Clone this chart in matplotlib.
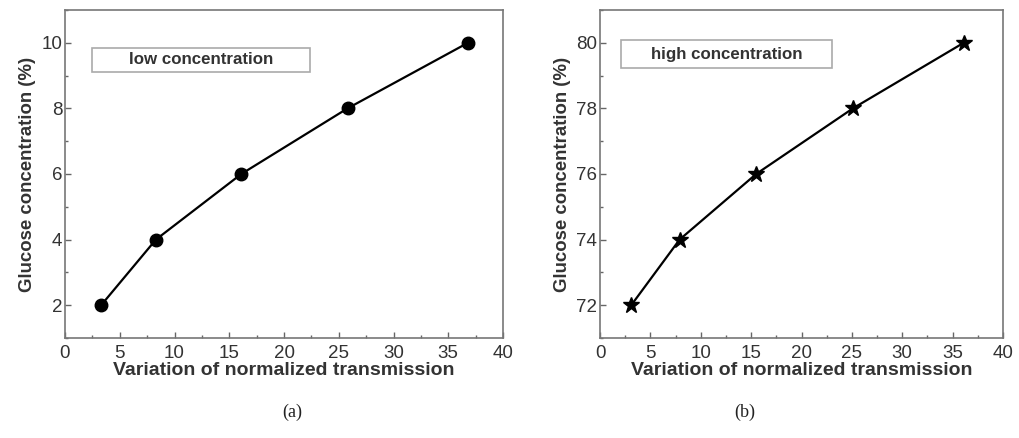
import matplotlib.pyplot as plt
from matplotlib.ticker import MultipleLocator

plt.rcParams['font.family'] = ['Liberation Sans', 'DejaVu Sans']

# panel (a): low concentration
low_x = [3.3, 8.3, 16.1, 25.8, 36.8]
low_y = [2, 4, 6, 8, 10]

# panel (b): high concentration
high_x = [3.1, 7.9, 15.5, 25.1, 36.1]
high_y = [72, 74, 76, 78, 80]

fig = plt.figure(figsize=(10.19, 4.38), dpi=100)
W, H = 1019, 438

def make_axes(left, right, top, bottom):
    return fig.add_axes([left / W, 1 - bottom / H, (right - left) / W, (bottom - top) / H])

ax1 = make_axes(65, 503, 10, 338)
ax2 = make_axes(600, 1003, 10, 338)

text_col = '#333333'
panels = [
    (ax1, low_x, low_y, 'o', 9, (1, 11), 'low concentration', (92, 310, 48, 72), '(a)', 292),
    (ax2, high_x, high_y, '*', 12, (71, 81), 'high concentration', (621, 832, 40, 68), '(b)', 745),
]

for ax, xs, ys, mk, ms, ylim, name, box, tag, tag_x in panels:
    ax.plot(xs, ys, color='black', lw=1.6, marker=mk, ms=ms)
    ax.set_xlim(0, 40)
    ax.set_ylim(*ylim)
    ax.xaxis.set_major_locator(MultipleLocator(5))
    ax.xaxis.set_minor_locator(MultipleLocator(2.5))
    ax.yaxis.set_major_locator(MultipleLocator(2))
    ax.yaxis.set_minor_locator(MultipleLocator(1))
    ax.tick_params(which='both', direction='in', colors='#666666', labelcolor=text_col,
                   labelsize=13.5, top=False, right=False, pad=2)
    ax.tick_params(axis='x', which='both', pad=5)
    ax.tick_params(which='major', length=4, width=1)
    ax.tick_params(which='minor', length=2, width=1)
    for s in ax.spines.values():
        s.set_color('#777777')
        s.set_linewidth(1.2)
    ax.set_xlabel('Variation of normalized transmission', fontsize=14, fontweight='bold',
                  color=text_col, labelpad=0)
    ax.set_ylabel('Glucose concentration (%)', fontsize=13.4, fontweight='bold',
                  color=text_col, labelpad=4)
    # legend-style label box
    bl, br, bt, bb = box
    ax.add_patch(plt.Rectangle((bl / W, 1 - bb / H), (br - bl) / W, (bb - bt) / H,
                               transform=fig.transFigure, fill=False,
                               edgecolor='#aaaaaa', lw=1.2))
    fig.text((bl + br) / 2 / W, 1 - (bt + bb) / 2 / H, name, ha='center', va='center',
             fontsize=12.2, fontweight='bold', color=text_col)
    fig.text(tag_x / W, 1 - 412 / H, tag, ha='center', va='center',
             fontsize=13, family='Liberation Serif', color='#222222')

fig.savefig('out.png', dpi=100)
